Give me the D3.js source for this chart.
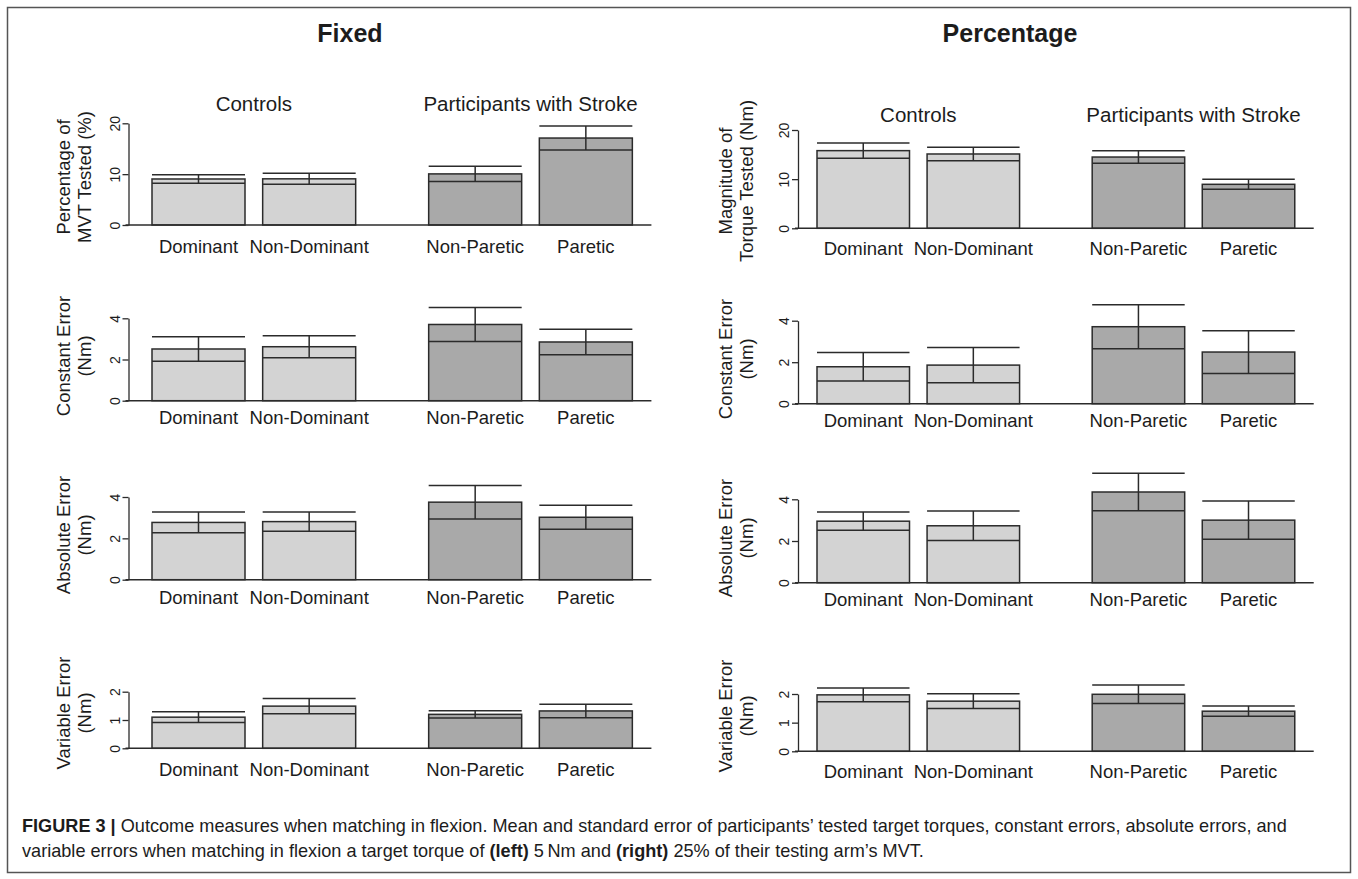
<!DOCTYPE html>
<html>
<head>
<meta charset="utf-8">
<script src="https://cdn.jsdelivr.net/npm/d3@7"></script>
<style>
  body { margin: 0; background: #fff; }
  svg { display: block; }
  text { font-family: "Liberation Sans", Arial, Helvetica, sans-serif; fill: #1c1c1c; }
</style>
</head>
<body>
<div id="chart"></div>
<script>
// ---- data ----
const categories = ["Dominant", "Non-Dominant", "Non-Paretic", "Paretic"];
const groups = ["Controls", "Participants with Stroke"];
const panelTitles = ["Fixed", "Percentage"];

// rows: tested torque, constant error, absolute error, variable error
const fixedMeans = [
    [9.05, 9.08, 10.05, 17.1],
    [2.51, 2.62, 3.7, 2.85],
    [2.77, 2.81, 3.75, 3.02],
    [1.1, 1.49, 1.2, 1.32]
];
const fixedSE = [
    [0.82, 1.08, 1.5, 2.37],
    [0.59, 0.53, 0.83, 0.62],
    [0.5, 0.47, 0.81, 0.58],
    [0.19, 0.27, 0.13, 0.24]
];
const percentMeans = [
    [15.8, 15.12, 14.5, 8.95],
    [1.78, 1.86, 3.71, 2.49],
    [2.95, 2.73, 4.35, 3.0],
    [1.97, 1.75, 1.99, 1.4]
];
const percentSE = [
    [1.56, 1.36, 1.29, 1.02],
    [0.69, 0.85, 1.06, 1.03],
    [0.44, 0.71, 0.9, 0.92],
    [0.24, 0.26, 0.32, 0.18]
];

const yTicks = [[0, 10, 20], [0, 2, 4], [0, 2, 4], [0, 1, 2]];
const fixedYLabels = [["Percentage of", "MVT Tested (%)"], ["Constant Error", "(Nm)"], ["Absolute Error", "(Nm)"], ["Variable Error", "(Nm)"]];
const percentYLabels = [["Magnitude of", "Torque Tested (Nm)"], ["Constant Error", "(Nm)"], ["Absolute Error", "(Nm)"], ["Variable Error", "(Nm)"]];

// ---- layout ----
const width = 1358, height = 879;
const barStarts = [0, 1.19, 2.975, 4.165];   // bar left edges, in bar widths
const barSpan = 5.165;
const baseSpan = 5.37;
const fillColor = ["#d3d3d3", "#d3d3d3", "#a9a9a9", "#a9a9a9"];

const columns = [
    {
        title: panelTitles[0], titleX: 350,
        means: fixedMeans, se: fixedSE, ylabels: fixedYLabels,
        axisX: 128.5, barLeft: 152, barW: 93, ylabX: [64, 84.5],
        base: [225, 400.7, 579.7, 748.3], top: [123.3, 318.3, 497, 691.7],
        labelY: [252.5, 424, 603.5, 776], groupY: 111, ylabMid: [177, 356, 535, 713]
    },
    {
        title: panelTitles[1], titleX: 1010,
        means: percentMeans, se: percentSE, ylabels: percentYLabels,
        axisX: 798, barLeft: 817, barW: 92.5, ylabX: [725.5, 746.5],
        base: [228.3, 403.7, 582.7, 751.3], top: [130, 320.7, 499.3, 694],
        labelY: [255, 427, 606, 777.5], groupY: 122, ylabMid: [181, 359, 538, 716]
    }
];

const svg = d3.select("#chart").append("svg")
    .attr("width", width)
    .attr("height", height);

svg.append("rect")
    .attr("x", 7.5).attr("y", 7.5)
    .attr("width", width - 15).attr("height", height - 14)
    .attr("fill", "none")
    .attr("stroke", "#555")
    .attr("stroke-width", 1.5);

function renderPanel(col, row) {
    const means = col.means[row];
    const se = col.se[row];
    const ticks = yTicks[row];

    const x = d3.scaleLinear()
        .domain([0, barSpan])
        .range([col.barLeft, col.barLeft + barSpan * col.barW]);
    const y = d3.scaleLinear()
        .domain([0, ticks[ticks.length - 1]])
        .range([col.base[row], col.top[row]]);
    const bw = x(1) - x(0);

    const g = svg.append("g");

    g.selectAll(".bar")
        .data(means)
        .enter().append("rect")
        .attr("class", "bar")
        .attr("x", (d, i) => x(barStarts[i]))
        .attr("width", bw)
        .attr("y", d => y(d))
        .attr("height", d => y(0) - y(d))
        .attr("fill", (d, i) => fillColor[i])
        .attr("stroke", "#2b2b2b")
        .attr("stroke-width", 1.5);

    // error bars: caps as wide as the bar
    const err = g.selectAll(".err")
        .data(means)
        .enter().append("g")
        .attr("class", "err")
        .attr("stroke", "#2b2b2b")
        .attr("stroke-width", 1.5);
    err.append("line")
        .attr("x1", (d, i) => x(barStarts[i]))
        .attr("x2", (d, i) => x(barStarts[i]) + bw)
        .attr("y1", (d, i) => y(d - se[i]))
        .attr("y2", (d, i) => y(d - se[i]));
    err.append("line")
        .attr("x1", (d, i) => x(barStarts[i]))
        .attr("x2", (d, i) => x(barStarts[i]) + bw)
        .attr("y1", (d, i) => y(d + se[i]))
        .attr("y2", (d, i) => y(d + se[i]));
    err.append("line")
        .attr("x1", (d, i) => x(barStarts[i]) + bw / 2)
        .attr("x2", (d, i) => x(barStarts[i]) + bw / 2)
        .attr("y1", (d, i) => y(d - se[i]))
        .attr("y2", (d, i) => y(d + se[i]));

    // baseline
    g.append("line")
        .attr("x1", col.axisX - 3)
        .attr("x2", x(baseSpan))
        .attr("y1", y(0))
        .attr("y2", y(0))
        .attr("stroke", "#2b2b2b")
        .attr("stroke-width", 1.5);

    // y axis
    const yAxis = g.append("g")
        .attr("transform", "translate(" + col.axisX + ",0)")
        .call(d3.axisLeft(y).tickValues(ticks).tickSize(6).tickSizeOuter(0).tickFormat(d3.format("d")));
    yAxis.select(".domain").attr("stroke", "#2b2b2b").attr("stroke-width", 1.3);
    yAxis.selectAll(".tick line").attr("stroke", "#2b2b2b").attr("stroke-width", 1.3);
    yAxis.selectAll(".tick text")
        .attr("transform", "rotate(-90)")
        .attr("x", 0)
        .attr("y", -9)
        .attr("dy", null)
        .style("text-anchor", "middle")
        .style("font-size", "14px")
        .style("font-family", "'Liberation Sans', Arial, sans-serif")
        .attr("fill", "#1c1c1c");

    // y label, two lines
    col.ylabels[row].forEach((t, k) => {
        g.append("text")
            .attr("transform", "translate(" + (col.ylabX[k] + 6) + "," + col.ylabMid[row] + ") rotate(-90)")
            .style("text-anchor", "middle")
            .style("font-size", "18.5px")
            .text(t);
    });

    // category labels
    g.selectAll(".cat")
        .data(categories)
        .enter().append("text")
        .attr("class", "cat")
        .attr("x", (d, i) => x(barStarts[i]) + bw / 2)
        .attr("y", col.labelY[row])
        .style("text-anchor", "middle")
        .style("font-size", "18.5px")
        .text(d => d);

    // group headers on the first row
    if (row === 0) {
        g.selectAll(".grp")
            .data(groups)
            .enter().append("text")
            .attr("class", "grp")
            .attr("x", (d, i) => (x(barStarts[i * 2]) + x(barStarts[i * 2 + 1]) + bw) / 2)
            .attr("y", col.groupY)
            .style("text-anchor", "middle")
            .style("font-size", "20.5px")
            .text(d => d);
    }
}

columns.forEach(col => {
    svg.append("text")
        .attr("x", col.titleX)
        .attr("y", 42)
        .style("text-anchor", "middle")
        .style("font-size", "25px")
        .style("font-weight", "bold")
        .text(col.title);
    for (let r = 0; r < 4; r++) renderPanel(col, r);
});

// caption
const captionLines = [
    [["FIGURE 3 | ", true], ["Outcome measures when matching in flexion. Mean and standard error of participants\u2019 tested target torques, constant errors, absolute errors, and", false]],
    [["variable errors when matching in flexion a target torque of ", false], ["(left)", true], [" 5\u2009Nm and ", false], ["(right)", true], [" 25% of their testing arm\u2019s MVT.", false]]
];
const capX = 22, capY = [832, 857], capWidth = 1266;
const capText = captionLines.map((parts, li) => {
    const t = svg.append("text")
        .attr("x", capX)
        .attr("y", capY[li])
        .style("font-size", "16px");
    parts.forEach(p => {
        t.append("tspan")
            .style("font-weight", p[1] ? "bold" : "normal")
            .text(p[0]);
    });
    return t;
});
const fitSize = 16 * capWidth / capText[0].node().getComputedTextLength();
capText.forEach(t => t.style("font-size", fitSize + "px"));
</script>
</body>
</html>
